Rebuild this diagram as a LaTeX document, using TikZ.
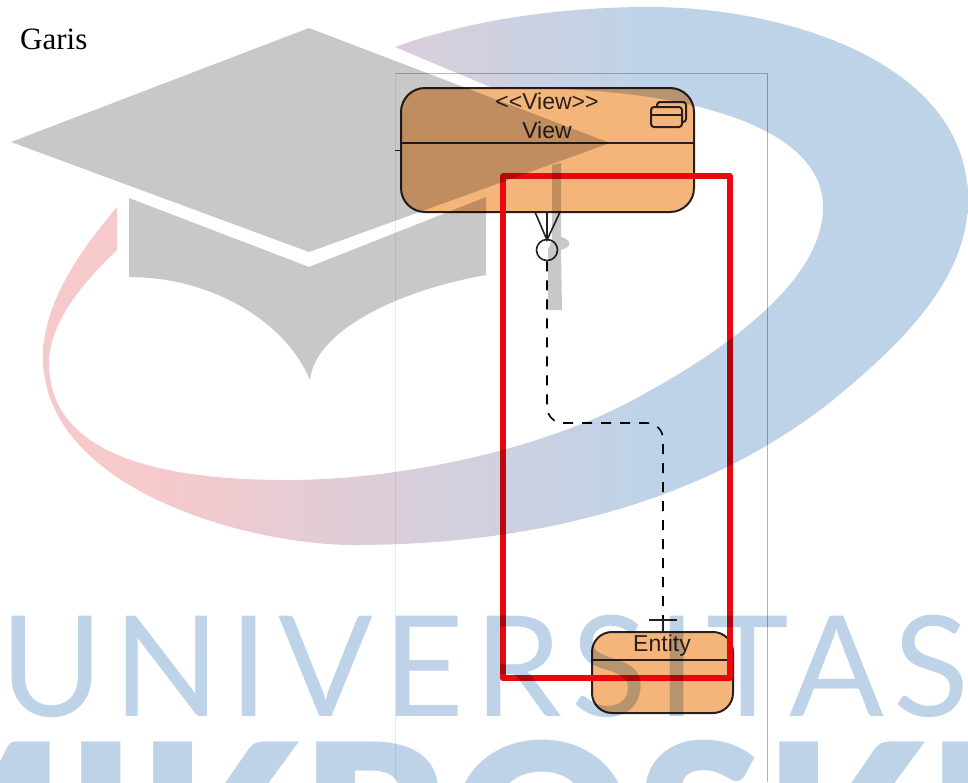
\documentclass[tikz,border=0pt]{standalone}
\usepackage{fontspec}
\setmainfont{Liberation Serif}
\newfontfamily\umlfont{Liberation Sans}
\newfontfamily\markfont[LetterSpace=7]{Lato}
\newfontfamily\markheavy{Lato Black}
\usetikzlibrary{arrows.meta,positioning,calc}
\definecolor{Boxfill}{HTML}{F4B57A}
\definecolor{Ink}{HTML}{2A1F1F}
\definecolor{Mark}{HTML}{C8C8C8}
\definecolor{Letter}{HTML}{BFD3E8}
\definecolor{Pinkish}{HTML}{F6C9CB}
\definecolor{Redbox}{HTML}{E8090F}
\pgfdeclarehorizontalshading{swoosh}{100bp}{color(0bp)=(Pinkish); color(31bp)=(Pinkish); color(57bp)=(Letter); color(100bp)=(Letter)}

\begin{document}
\begin{tikzpicture}[
    x=1pt,y=-1pt,
    umlbox/.style={draw=Ink,fill=Boxfill,line width=2pt,inner sep=0pt,rounded corners=24pt},
    umltext/.style={font=\umlfont\fontsize{23}{27}\selectfont,text=Ink,inner sep=0pt},
    part/.style={draw=Ink,line width=2pt},
    dep/.style={draw=black,line width=1.6pt,dash pattern=on 10pt off 9pt},
    frame/.style={line width=0.7pt}
  ]
    \useasboundingbox (0,0) rectangle (968,782);
    \clip (0,0) rectangle (968,782);
    \fill[white] (0,0) rectangle (968,782);
    \node[anchor=base west,inner sep=0pt,font=\fontsize{31}{36}\selectfont] (title) at (20,49) {Garis};
    % frame of the screenshot
    \draw[frame,draw=black!8] (395,782) -- (395,73);
    \draw[frame,draw=black!25] (395,73) -- (767,73);
    \draw[frame,draw=black!30] (767,73) -- (767,782);
    % boxes
    \node[umlbox,minimum width=293pt,minimum height=124pt] (view) at (547.5,150) {};
    \node[umlbox,rounded corners=20pt,minimum width=141pt,minimum height=81pt] (entity) at (662.5,672.5) {};
    \draw[part] (view.west |- 0,143) -- (view.east |- 0,143);
    \draw[part] (entity.west |- 0,660) -- (entity.east |- 0,660);
    \draw[part,line width=1.5pt] (395,150.5) -- (view.west |- 0,150.5);
    \node[umltext] (viewtype) at (547,101) {<{}<View>{}>};
    \node[umltext] (viewname) at (547,130) {View};
    \node[umltext] (entityname) at (662,646) {Entity};
    % small icon in the view box
    \draw[part,rounded corners=3pt,fill=Boxfill] (657,102) rectangle (686,122);
    \draw[part,rounded corners=3pt,fill=Boxfill] (651,107) rectangle (682,127);
    \draw[part] (651,115) -- (682,115);
    % connector
    \node[circle,draw=Ink,line width=1.6pt,minimum size=21pt,inner sep=0pt] (ring) at (547,250) {};
    \coordinate (crow) at (547,240);
    \coordinate (tee) at (663,620);
    \draw[part,line width=1.6pt] (535,212) -- (crow) -- (560,212);
    \draw[part,line width=1.6pt] (view.south -| crow) -- (crow);
    \draw[dep,rounded corners=16pt] (ring.south) -- (547,423) -- (663,423) -- (tee);
    \draw[part,line width=1.6pt] ($(tee)+(-14,0)$) -- ($(tee)+(14,0)$);
    \draw[part,line width=1.6pt] (tee) -- (entity.north -| tee);
    % red marking
    \draw[Redbox,line width=6pt,line join=round] (503,176) rectangle (729.5,678);
    % watermark on top
    \begin{scope}[blend mode=multiply]
      \shade[shading=swoosh] (395,47) .. controls (470,20) and (560,7) .. (650,7)
        .. controls (780,7) and (968,60) .. (968,200)
        .. controls (968,280) and (900,345) .. (833,400)
        .. controls (720,490) and (560,545) .. (353,545)
        .. controls (250,545) and (43,490) .. (43,357)
        .. controls (43,300) and (85,245) .. (117,207) -- (117,250)
        .. controls (80,285) and (49,325) .. (49,363)
        .. controls (49,455) and (160,480) .. (287,480)
        .. controls (400,480) and (540,450) .. (633,400)
        .. controls (700,364) and (823,290) .. (823,207)
        .. controls (823,130) and (700,100) .. (607,92)
        .. controls (560,88) and (525,87) .. (495,89) -- cycle;
      \fill[Mark] (309,28) -- (610,143) -- (309,252) -- (11,142) -- cycle;
      \fill[Mark] (129,198) -- (309,267) -- (486,197) -- (486,275)
        .. controls (400,290) and (315,330) .. (310,380)
        .. controls (285,320) and (210,277) .. (129,277) -- cycle;
      \fill[Mark] (552,165) -- (561,163) -- (561,237) .. controls (572,240) and (572,247) .. (561,250)
        -- (562,310) -- (548,310) -- (548,250) -- (552,240) -- cycle;
      \node[anchor=base west,inner sep=0pt,text=Letter,font=\markfont\fontsize{140}{150}\selectfont] (univ) at (0,716) {UNIVERSITAS};
      \node[anchor=base west,inner sep=0pt,text=Letter,font=\markheavy\fontsize{230}{240}\selectfont] (mikro) at (-155,909) {MIKROSKIL};
    \end{scope}
  \end{tikzpicture}
\end{document}
